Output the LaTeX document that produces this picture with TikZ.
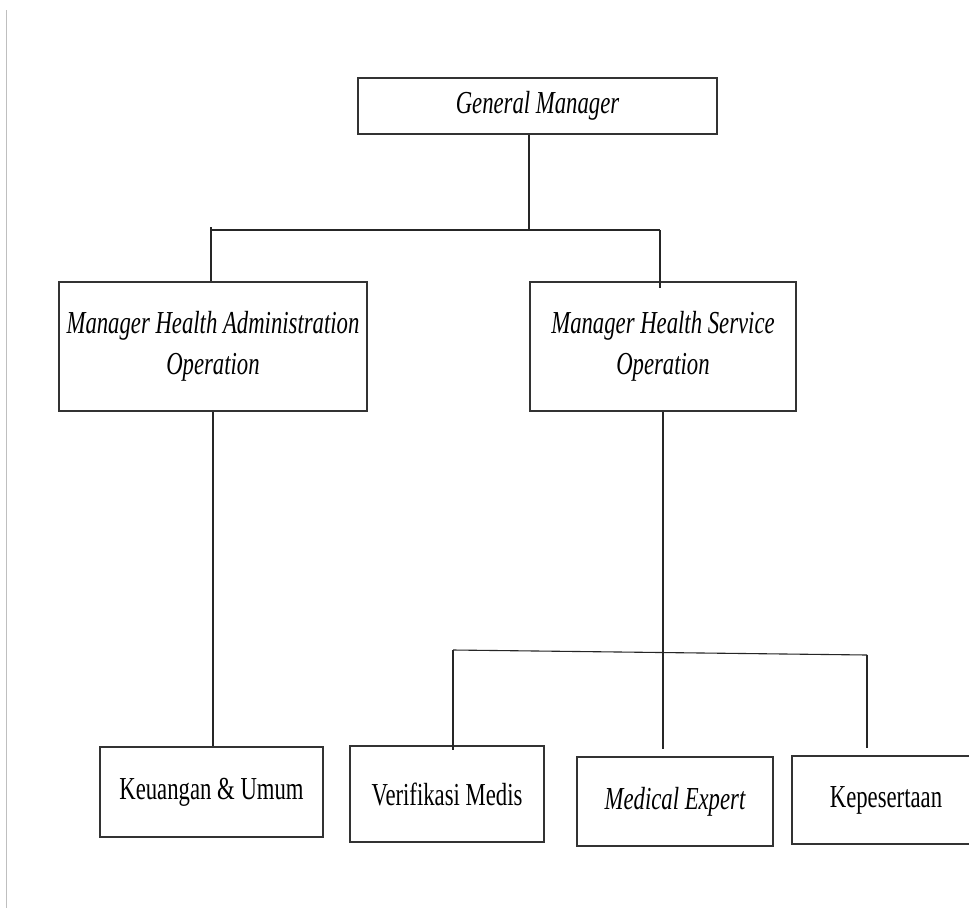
\documentclass[tikz,border=0pt]{standalone}
\usepackage{fontspec}
\setmainfont{Liberation Serif}[FakeStretch=0.71]
\begin{document}
\begin{tikzpicture}[x=1pt,y=-1pt,
  box/.style={draw=black!80, line width=1.8pt, fill=white, inner sep=0pt, align=center,
    font=\fontsize{32}{41}\selectfont},
  conn/.style={draw=black!85, line width=1.1pt}]
\useasboundingbox (0,0) rectangle (969,908);
\clip (0,0) rectangle (969,908);
\fill[white] (0,0) rectangle (969,908);
% faint scan edge
\draw[black!25, line width=1pt] (6,10) -- (6,908);

% nodes
\node[box, minimum width=359pt, minimum height=56pt] (gm) at (537.5,106) {\itshape General Manager};
\node[box, minimum width=308pt, minimum height=129pt] (mhao) at (213,346.5) {\itshape Manager Health Administration\\\itshape Operation};
\node[box, minimum width=266pt, minimum height=129pt] (mhso) at (663,346.5) {\itshape Manager Health Service\\\itshape Operation};
\node[box, minimum width=223pt, minimum height=90pt] (ku) at (211.5,792) {Keuangan \& Umum};
\node[box, minimum width=194pt, minimum height=96pt] (vm) at (447,794) {Verifikasi Medis};
\node[box, minimum width=196pt, minimum height=89pt] (me) at (675,801.5) {\itshape Medical Expert};
\node[box, minimum width=188pt, minimum height=88pt] (kp) at (886,800) {Kepesertaan};

% connector points
\coordinate (drop) at (529,230);
\coordinate (busL) at (211,230);
\coordinate (busR) at (660,230);
\coordinate (busRend) at (660,288);
\coordinate (meend) at (663,749);
\coordinate (b2L) at (453,650);
\coordinate (b2R) at (867,655);
\coordinate (vmend) at (453,750);
\coordinate (kpend) at (867,748);

% connectors
\draw[conn] (drop |- gm.south) -- (drop);
\draw[conn] (busL) -- (busR);
\draw[conn] (busL |- 0,227) -- (busL |- mhao.north);
\draw[conn] (busR) -- (busRend);
\draw[conn] (mhao.south) -- (mhao.south |- ku.north);
\draw[conn] (mhso.south) -- (meend);
\draw[conn] (b2L) -- (b2R);
\draw[conn] (b2L) -- (vmend);
\draw[conn] (b2R) -- (kpend);
\end{tikzpicture}
\end{document}
